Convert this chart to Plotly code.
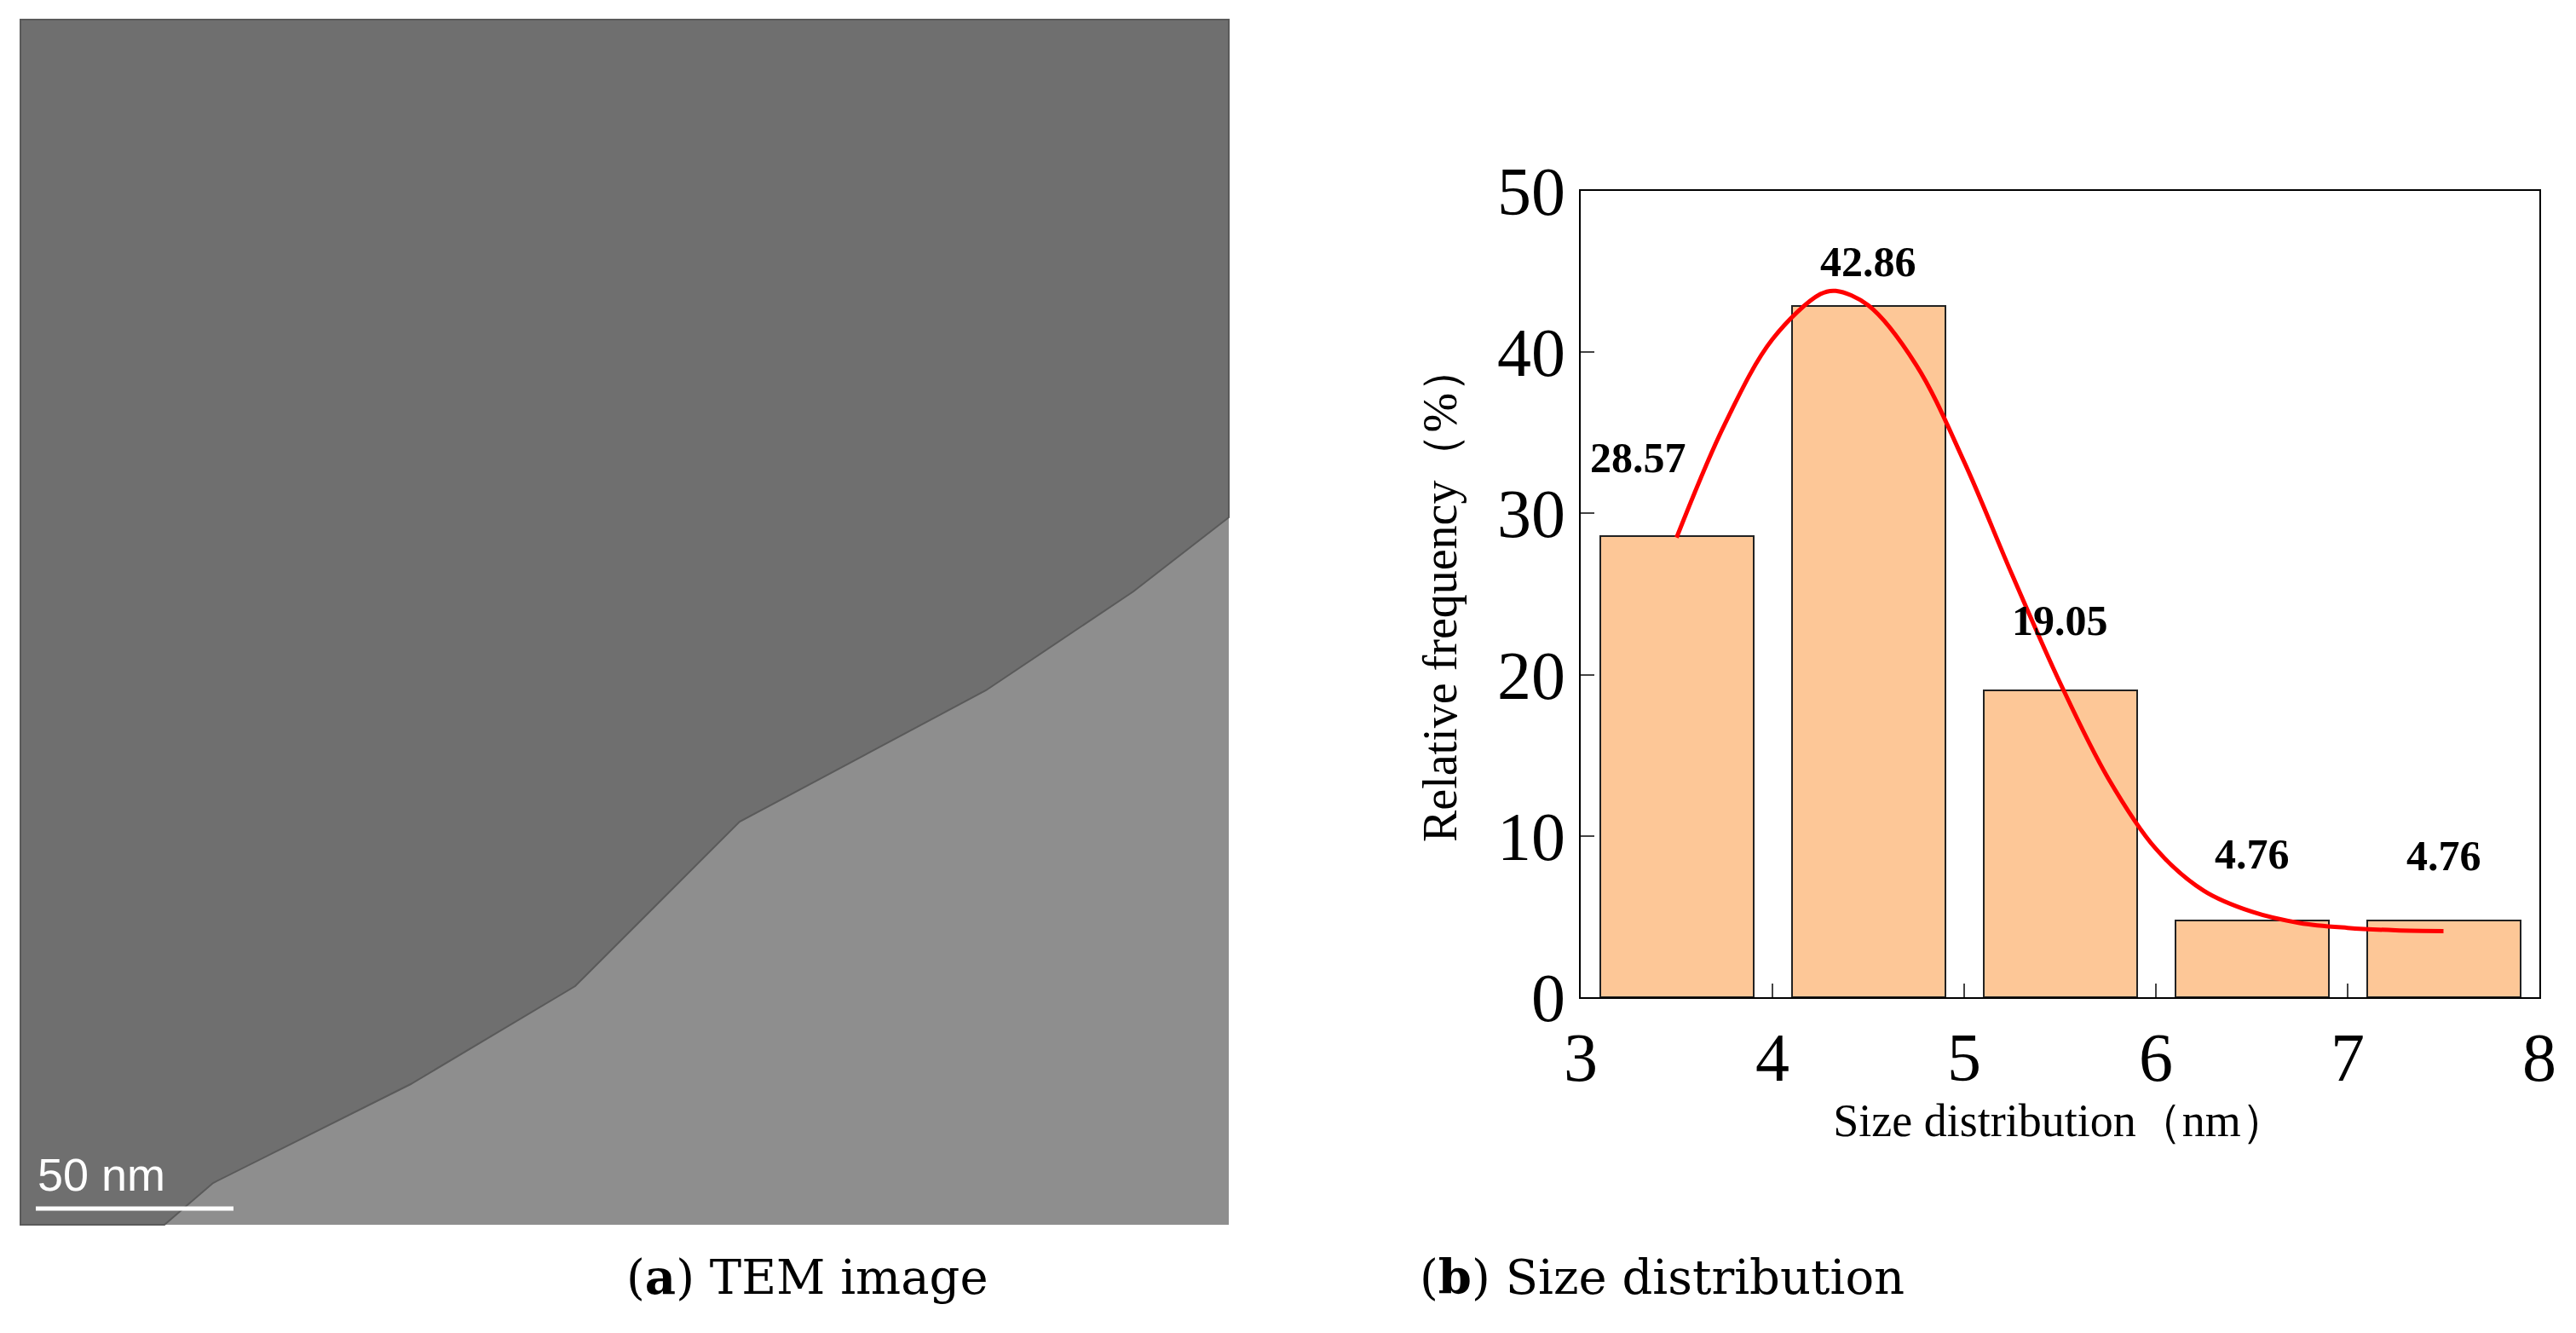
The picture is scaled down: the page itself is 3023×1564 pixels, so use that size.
import plotly.graph_objects as go

W, H = 3023, 1564
bin_centers = [3.5, 4.5, 5.5, 6.5, 7.5]
freq = [28.57, 42.86, 19.05, 4.76, 4.76]
freq_labels = ["28.57", "42.86", "19.05", "4.76", "4.76"]
fit_x = [3.5, 3.75, 4.0, 4.25, 4.33, 4.5, 4.75, 5.0, 5.25, 5.5, 5.75, 6.0, 6.25, 6.5, 6.75, 7.0, 7.25, 7.5]
fit_y = [28.5, 35.5, 40.8, 43.6, 43.8, 42.9, 39.2, 33.2, 26.2, 19.5, 13.6, 9.2, 6.6, 5.3, 4.6, 4.3, 4.15, 4.1]
x_ticks = [3, 4, 5, 6, 7, 8]
y_ticks = [0, 10, 20, 30, 40, 50]

def px(x): return x / W
def py(y): return 1 - y / H

fig = go.Figure()
fig.add_trace(go.Bar(x=bin_centers, y=freq, width=0.8,
                     marker=dict(color="#fdc797", line=dict(color="#222", width=2)),
                     showlegend=False))
fig.add_trace(go.Scatter(x=fit_x, y=fit_y, mode="lines", line=dict(color="#ff0000", width=5, shape="spline"),
                         showlegend=False))
shifts = [92, 52, 82, 78, 76]
xoffs = [-0.2, 0, 0, 0, 0]
for xc, v, t, s, o in zip(bin_centers, freq, freq_labels, shifts, xoffs):
    fig.add_annotation(x=xc + o, y=v, text=f"<b>{t}</b>", showarrow=False, yshift=s,
                       font=dict(family="Liberation Serif", size=50, color="black"))

shapes = []
shapes.append(dict(type="rect", xref="paper", yref="paper", x0=px(24), x1=px(1442), y0=py(1437), y1=py(23),
                   fillcolor="#8e8e8e", line=dict(width=0), layer="below"))
edge = [(1442, 607), (1330, 694), (1157, 810), (868, 964), (675, 1157), (482, 1272), (250, 1388), (193, 1437)]
path = f"M {px(24)},{py(23)} L {px(1442)},{py(23)} " + " ".join(f"L {px(a)},{py(b)}" for a, b in edge) + f" L {px(24)},{py(1437)} Z"
shapes.append(dict(type="path", xref="paper", yref="paper", path=path, fillcolor="#6f6f6f",
                   line=dict(color="#5a5a5a", width=2), layer="below"))
shapes.append(dict(type="line", xref="paper", yref="paper", x0=px(42), x1=px(274), y0=py(1418), y1=py(1418),
                   line=dict(color="white", width=5)))
fig.update_layout(shapes=shapes)
fig.add_annotation(xref="paper", yref="paper", x=px(42), y=py(1378), xanchor="left", yanchor="middle",
                   text="50 nm", showarrow=False, font=dict(family="Liberation Sans", size=54, color="white"))
fig.add_annotation(xref="paper", yref="paper", x=px(733), y=py(1533), text="(<b>a</b>) TEM image", showarrow=False,
                   font=dict(family="DejaVu Serif", size=56, color="black"))
fig.add_annotation(xref="paper", yref="paper", x=px(2237), y=py(1533), text="(<b>b</b>) Size distribution", showarrow=False,
                   font=dict(family="DejaVu Serif", size=56, color="black"))
fig.add_annotation(xref="paper", yref="paper", x=px(1690), y=py(697), textangle=-90, text="Relative frequency（%）",
                   showarrow=False, font=dict(family="Liberation Serif", size=56, color="black"))

fig.update_layout(
    width=W, height=H, margin=dict(l=0, r=0, t=0, b=0, pad=0), autosize=False,
    paper_bgcolor="white", plot_bgcolor="white", bargap=0,
    xaxis=dict(domain=[px(1855), px(2980)], range=[3, 8], tickvals=x_ticks, ticks="inside", ticklen=16, automargin=False,
               tickwidth=2, showline=True, linecolor="black", linewidth=2, mirror=True, showgrid=False, zeroline=False,
               tickfont=dict(family="Liberation Serif", size=80, color="black"),
               title=dict(text="Size distribution（nm）", font=dict(family="Liberation Serif", size=54, color="black"), standoff=0)),
    yaxis=dict(domain=[py(1170), py(224)], range=[0, 50], tickvals=y_ticks, ticks="inside", ticklen=16, automargin=False,
               tickwidth=2, showline=True, linecolor="black", linewidth=2, mirror=True, showgrid=False, zeroline=False,
               tickfont=dict(family="Liberation Serif", size=80, color="black")),
)
fig.write_html("out.html", config={"displayModeBar": False},
               post_script="document.body.style.margin='0';document.body.style.overflow='hidden';")
